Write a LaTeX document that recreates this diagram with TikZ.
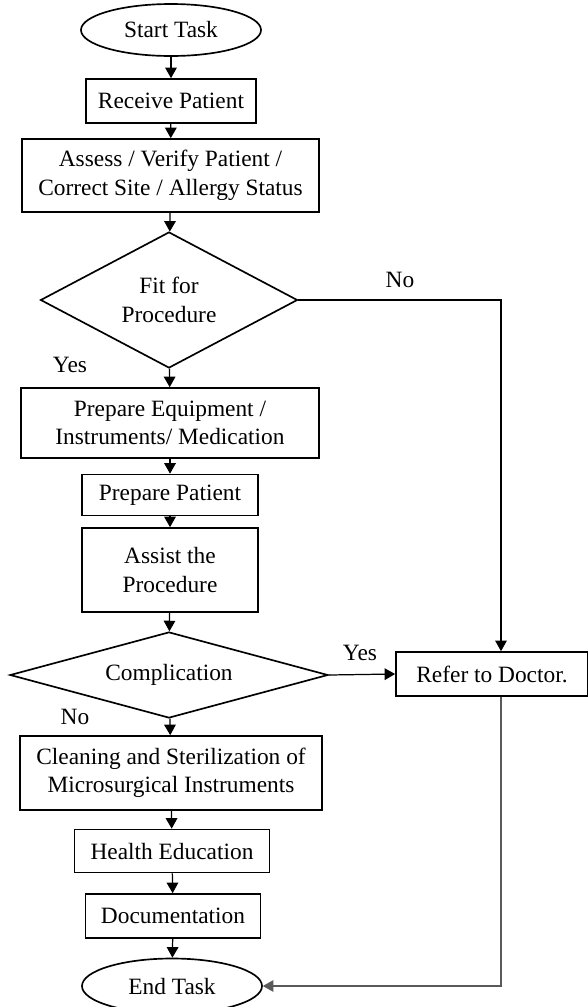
\documentclass[tikz,border=0pt]{standalone}
\usepackage{fontspec}
\setmainfont{Liberation Serif}
\usetikzlibrary{arrows.meta, positioning, calc, shapes.geometric}

\begin{document}
\begin{tikzpicture}[
                >={Triangle[length=6pt, width=6.6pt]},
                every node/.style={font=\fontsize{13.3}{16.2}\selectfont},
                blk/.style  ={draw, line width=0.95pt, inner sep=1pt, align=center},
                term/.style ={draw, line width=0.95pt, ellipse, inner sep=0pt},
                dec/.style  ={draw, line width=0.95pt, diamond, aspect=1.9,
                        inner sep=0pt, align=center},
                flow/.style ={->, line width=0.7pt},
                lbl/.style  ={inner sep=0pt}
            ]
            \useasboundingbox (0,0) rectangle (11.76,-20.14);

            %% ---- MAIN column: start to first decision -----------------------
            \node[term, minimum width=3.6cm, minimum height=1.04cm] (start) at (3.42,-0.60) {Start Task};
            \node[blk, minimum width=3.4cm, minimum height=0.88cm] (recv) at (3.42,-2.02) {Receive Patient};
            \node[blk, minimum width=5.94cm, minimum height=1.46cm] (assess) at (3.41,-3.51)
                {Assess / Verify Patient /\\Correct Site / Allergy Status};
            \node[dec, minimum width=5.14cm, minimum height=2.72cm] (fit) at (3.38,-6.00)
                {Fit for\\Procedure};

            %% ---- MAIN column: preparation and procedure ---------------------
            \node[blk, minimum width=5.96cm, minimum height=1.40cm] (prepeq) at (3.40,-8.46)
                {Prepare Equipment /\\Instruments/ Medication};
            \node[blk, minimum width=3.52cm, minimum height=0.82cm] (preppt) at (3.40,-9.90) {Prepare Patient};
            \node[blk, minimum width=3.52cm, minimum height=1.68cm] (assist) at (3.40,-11.40)
                {Assist the\\Procedure};
            \node[dec, minimum width=6.36cm, minimum height=1.72cm, aspect=3.7] (compl) at (3.38,-13.50)
                {Complication};

            %% ---- MAIN column: after the procedure ---------------------------
            \node[blk, minimum width=6.04cm, minimum height=1.48cm] (clean) at (3.42,-15.46)
                {Cleaning and Sterilization of\\Microsurgical Instruments};
            \node[blk, minimum width=3.9cm, minimum height=0.86cm] (health) at (3.44,-17.02) {Health Education};
            \node[blk, minimum width=3.5cm, minimum height=0.88cm] (docu) at (3.46,-18.32) {Documentation};
            \node[term, minimum width=3.6cm, minimum height=1.1cm] (end) at (3.44,-19.72) {End Task};

            %% ---- RIGHT: referral ---------------------------------------------
            \node[blk, minimum width=3.84cm, minimum height=0.88cm] (refer) at (9.84,-13.48) {Refer to Doctor.};
            \coordinate (side) at (10.02,-6.00);

            %% ---- connectors -----------------------------------------------------
            \draw[flow] (start) -- (recv);
            \draw[flow] (recv) -- (assess);
            \draw[flow] (assess) -- (fit);
            \draw[flow] (fit) -- (prepeq);
            \draw[flow] (prepeq) -- (preppt);
            \draw[flow] (preppt) -- (assist);
            \draw[flow] (assist) -- (compl);
            \draw[flow] (compl) -- (clean);
            \draw[flow] (clean) -- (health);
            \draw[flow] (health) -- (docu);
            \draw[flow] (docu) -- (end);
            \draw[flow] (compl.east) -- (refer.west);
            \draw[flow, line width=0.6pt] (fit.east) -- (side) -- (side |- refer.north);
            \draw[flow, line width=0.6pt, draw=black!65] (side |- refer.south) |- (end.east);

            %% ---- branch labels ----------------------------------------------------
            \node[lbl] (no1)  at (8.00,-5.60)  {No};
            \node[lbl] (yes1) at (1.40,-7.30)  {Yes};
            \node[lbl] (yes2) at (7.20,-13.06) {Yes};
            \node[lbl] (no2)  at (1.50,-14.34) {No};

        \end{tikzpicture}
\end{document}
